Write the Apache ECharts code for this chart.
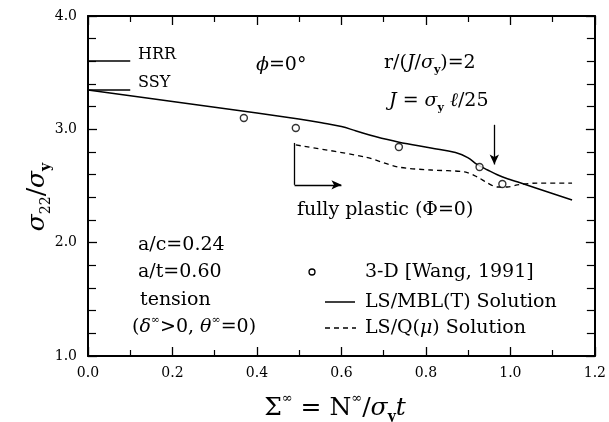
<!DOCTYPE html>
<html>
<head>
<meta charset="utf-8">
<script src="https://cdn.jsdelivr.net/npm/echarts@6/dist/echarts.min.js"></script>
<style>
  html, body { margin: 0; padding: 0; background: #fff; }
  #chart { width: 609px; height: 422px; }
</style>
</head>
<body>
<div id="chart"></div>
<script>
// Normalised remote load Σ∞ = N∞/σy·t on x, opening stress σ22/σy on y.
const xTickLabels = ['0.0', '0.2', '0.4', '0.6', '0.8', '1.0', '1.2'];
const yTickLabels = ['1.0', '2.0', '3.0', '4.0'];

// LS/MBL(T) solution (solid)
const mblLoad   = [0.0, 0.2, 0.4, 0.499, 0.553, 0.6, 0.635, 0.68, 0.734, 0.812, 0.87, 0.899, 0.922, 0.946, 0.969, 0.993, 1.016, 1.146];
const mblStress = [3.347, 3.246, 3.144, 3.091, 3.058, 3.025, 2.985, 2.936, 2.888, 2.835, 2.795, 2.75, 2.688, 2.641, 2.599, 2.564, 2.537, 2.376];

// LS/Q(mu) solution (dashed), from full plasticity onwards
const qLoad   = [0.492, 0.656, 0.734, 0.812, 0.892, 0.922, 0.946, 0.969, 0.993, 1.016, 1.064, 1.146];
const qStress = [2.862, 2.756, 2.668, 2.641, 2.624, 2.579, 2.526, 2.491, 2.491, 2.509, 2.526, 2.526];

// 3-D finite element results [Wang, 1991]
const wangLoad   = [0.369, 0.492, 0.736, 0.927, 0.981];
const wangStress = [3.10, 3.012, 2.844, 2.668, 2.518];

// Asymptotic reference levels near zero load
const hrrLevel = 3.603;
const ssyLevel = 3.347;
const refSpan = [0.0, 0.1];

// Annotation anchors in data units
const jArrowLoad = 0.962, jArrowFrom = 3.04, jArrowTo = 2.69;
const fpLoad = 0.489, fpTop = 2.88, fpBottom = 2.51, fpEnd = 0.6;

const zip = (xs, ys) => xs.map((x, i) => [x, ys[i]]);

const SERIF = 'DejaVu Serif';
const ink = '#000';
const FS = 19;

const rich = {
  n:    { fontFamily: SERIF, fontSize: FS, lineHeight: 25, color: ink },
  i:    { fontFamily: SERIF, fontSize: FS, lineHeight: 25, fontStyle: 'italic', color: ink },
  sub:  { fontFamily: SERIF, fontSize: 11, fontWeight: 'bold', verticalAlign: 'bottom', color: ink },
  sup:  { fontFamily: SERIF, fontSize: 11, verticalAlign: 'top', color: ink },
  h:    { fontFamily: SERIF, fontSize: 16, color: ink },
  big:  { fontFamily: SERIF, fontSize: 25, lineHeight: 32, color: ink },
  bi:   { fontFamily: SERIF, fontSize: 25, lineHeight: 32, fontStyle: 'italic', color: ink },
  bsub: { fontFamily: SERIF, fontSize: 14, verticalAlign: 'bottom', color: ink },
  bsubb:{ fontFamily: SERIF, fontSize: 14, fontWeight: 'bold', verticalAlign: 'bottom', color: ink },
  bsup: { fontFamily: SERIF, fontSize: 13, verticalAlign: 'top', color: ink }
};

function label(x, y, text, align) {
  return {
    type: 'text', x: x, y: y, silent: true,
    style: { text: text, rich: rich, align: align || 'left', verticalAlign: 'middle', fill: ink }
  };
}

const axisLineStyle = { show: true, onZero: false, lineStyle: { color: ink, width: 2 } };

function xAxisDef(pos, showLabels) {
  return {
    type: 'value', position: pos, min: 0, max: 1.2, interval: 0.2,
    axisLine: axisLineStyle,
    axisTick: { show: true, inside: true, length: 9, lineStyle: { color: ink, width: 1.3 } },
    minorTick: { show: true, splitNumber: 2, length: 6, lineStyle: { color: ink, width: 1.2 } },
    splitLine: { show: false }, minorSplitLine: { show: false },
    axisLabel: {
      show: showLabels, margin: 10, color: ink, fontFamily: SERIF, fontSize: 14,
      formatter: v => xTickLabels[Math.round(v / 0.2)]
    }
  };
}
function yAxisDef(pos, showLabels) {
  return {
    type: 'value', position: pos, min: 1, max: 4, interval: 1,
    axisLine: axisLineStyle,
    axisTick: { show: true, inside: true, length: 9, lineStyle: { color: ink, width: 1.3 } },
    minorTick: { show: true, splitNumber: 5, length: 8, lineStyle: { color: ink, width: 1.2 } },
    splitLine: { show: false }, minorSplitLine: { show: false },
    axisLabel: {
      show: showLabels, margin: 11, color: ink, fontFamily: SERIF, fontSize: 14,
      formatter: v => yTickLabels[Math.round(v - 1)]
    }
  };
}

const arrowLine = { color: ink, width: 1.3, type: 'solid' };

const option = {
  animation: false,
  backgroundColor: '#fff',
  grid: { left: 88, right: 11, top: 16, bottom: 66, containLabel: false },
  xAxis: [xAxisDef('bottom', true), xAxisDef('top', false)],
  yAxis: [yAxisDef('left', true), yAxisDef('right', false)],
  series: [
    {
      name: 'LS/MBL(T) Solution', type: 'line', data: zip(mblLoad, mblStress),
      smooth: 0.4, symbol: 'none', lineStyle: { color: ink, width: 1.5 }, silent: true
    },
    {
      name: 'LS/Q(μ) Solution', type: 'line', data: zip(qLoad, qStress),
      smooth: 0.3, symbol: 'none', lineStyle: { color: ink, width: 1.3, type: [5, 4] }, silent: true
    },
    {
      name: '3-D [Wang, 1991]', type: 'scatter', data: zip(wangLoad, wangStress),
      symbol: 'circle', symbolSize: 7,
      itemStyle: { color: '#fff', borderColor: ink, borderWidth: 1.4 }, silent: true, z: 5
    },
    {
      name: 'HRR', type: 'line', data: refSpan.map(x => [x, hrrLevel]),
      symbol: 'none', lineStyle: { color: ink, width: 1.3 }, silent: true
    },
    {
      name: 'SSY', type: 'line', data: refSpan.map(x => [x, ssyLevel]),
      symbol: 'none', lineStyle: { color: ink, width: 1.5 }, silent: true
    },
    {
      name: 'annotations', type: 'line', data: [], silent: true,
      markLine: {
        silent: true, symbol: ['none', 'arrow'], symbolSize: [7, 10],
        label: { show: false }, lineStyle: arrowLine, animation: false,
        emphasis: { disabled: true },
        data: [
          [{ coord: [jArrowLoad, jArrowFrom] }, { coord: [jArrowLoad, jArrowTo] }],
          [{ coord: [fpLoad, fpTop] }, { coord: [fpLoad, fpBottom], symbol: 'none' }],
          [{ coord: [fpLoad, fpBottom] }, { coord: [fpEnd, fpBottom] }]
        ]
      }
    }
  ],
  graphic: [
    label(138, 55, '{h|HRR}'),
    label(138, 83, '{h|SSY}'),
    label(256, 65, '{i|ϕ}{n|=0°}'),
    label(384, 63, '{n|r/(}{i|J}{n|/}{i|σ}{sub|y}{n|)=2}'),
    label(389, 101, '{i|J}{n| = }{i|σ}{sub|y}{n| }{i|ℓ}{n|/25}'),
    label(297, 210, '{n|fully plastic (Φ=0)}'),
    label(138, 245, '{n|a/c=0.24}'),
    label(138, 272, '{n|a/t=0.60}'),
    label(140, 300, '{n|tension}'),
    label(132, 327, '{n|(}{i|δ}{sup|∞}{n|>0, }{i|θ}{sup|∞}{n|=0)}'),
    // legend
    { type: 'circle', silent: true, shape: { cx: 312, cy: 272, r: 3 }, style: { fill: '#fff', stroke: ink, lineWidth: 1.3 } },
    label(365, 272, '{n|3-D [Wang, 1991]}'),
    { type: 'line', silent: true, shape: { x1: 325, y1: 302, x2: 355, y2: 302 }, style: { stroke: ink, lineWidth: 1.5 } },
    label(365, 302, '{n|LS/MBL(T) Solution}'),
    { type: 'line', silent: true, shape: { x1: 325, y1: 328, x2: 356, y2: 328 }, style: { stroke: ink, lineWidth: 1.3, lineDash: [5, 4] } },
    label(365, 328, '{n|LS/Q(}{i|μ}{n|) Solution}'),
    // axis titles
    label(335, 408, '{big|Σ}{bsup|∞}{big| = N}{bsup|∞}{big|/}{bi|σ}{bsubb|y}{bi|t}', 'center'),
    {
      type: 'text', x: 37, y: 197, rotation: Math.PI / 2, silent: true,
      style: { text: '{bi|σ}{bsub|22}{big|/}{bi|σ}{bsubb|y}', rich: rich, align: 'center', verticalAlign: 'middle' }
    }
  ]
};

const chart = echarts.init(document.getElementById('chart'), null, { renderer: 'canvas' });
chart.setOption(option);
</script>
</body>
</html>
